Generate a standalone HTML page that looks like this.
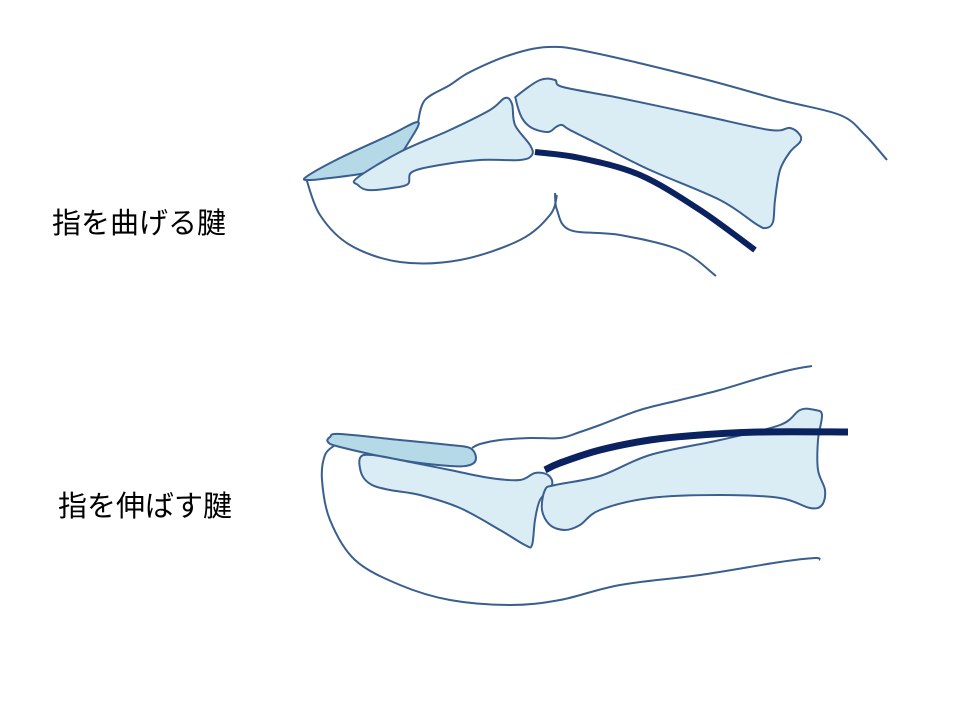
<!DOCTYPE html>
<html><head><meta charset="utf-8"><style>
html,body{margin:0;padding:0;background:#fff;width:960px;height:720px;overflow:hidden}
.t{position:absolute;font-family:"Liberation Sans","Noto Sans CJK JP",sans-serif;font-size:29px;color:#000;white-space:nowrap}
svg{position:absolute;left:0;top:0}
</style></head><body>
<div class="t" style="left:52px;top:200px">指を曲げる腱</div>
<div class="t" style="left:58px;top:483px">指を伸ばす腱</div>
<svg width="960" height="720" id="s"></svg>
<script>
var S="#3a5f8f";
var shapes=[
{p:[[306,178],[320,215],[350,245],[400,262],[460,260],[520,240],[550,215],[557,195]],f:"none",c:0},
{p:[[555,193],[557,210],[570,230],[620,235],[680,250],[716,276]],f:"none",c:0},
{p:[[418,122],[425,100],[450,85],[470,72],[510,55],[548,47],[590,52],[700,78],[780,100],[840,115],[865,135],[887,160]],f:"none",c:0},
{p:[[306,177],[340,158],[390,135],[418,122],[410,140],[395,160],[370,172],[330,178],[310,180]],f:"#b5d9e6",c:1},
{p:[[357,178],[400,152],[450,130],[490,110],[505,98],[512,104],[515,125],[530,145],[532,155],[520,160],[480,160],[440,165],[412,172],[408,184],[392,188],[368,190],[358,185]],f:"#daedf4",c:1},
{p:[[518,95],[540,80],[555,80],[563,87],[620,98],[700,115],[770,130],[790,128],[800,135],[800,142],[790,152],[780,170],[775,200],[773,222],[766,228],[756,224],[720,200],[650,170],[600,145],[570,130],[562,125],[556,127],[548,132],[532,128],[522,118],[516,100]],f:"#daedf4",c:1},
{p:[[535,152],[580,158],[640,175],[700,210],[755,250]],f:"none",c:0,w:6,s:"#0b2260"},
{p:[[472,448],[480,444],[500,440],[530,438],[560,438],[580,432],[600,425],[640,410],[680,400],[720,390],[760,378],[790,370],[812,366]],f:"none",c:0},
{p:[[335,445],[325,455],[322,480],[330,520],[355,560],[400,585],[450,600],[510,605],[560,600],[620,585],[700,575],[780,562],[815,558],[820,560]],f:"none",c:0},
{p:[[330,437],[340,434],[400,440],[450,445],[470,448],[476,458],[470,465],[450,466],[400,460],[340,447],[328,442]],f:"#b5d9e6",c:1},
{p:[[360,458],[372,455],[410,462],[450,470],[490,478],[520,480],[535,473],[548,475],[552,485],[540,500],[535,520],[532,545],[525,545],[500,530],[460,508],[420,495],[390,490],[372,485],[362,475]],f:"#daedf4",c:1},
{p:[[545,490],[555,485],[600,476],[650,455],[720,440],[780,425],[800,410],[815,410],[822,415],[818,440],[818,470],[825,490],[822,505],[810,508],[780,498],[720,495],[650,498],[600,510],[580,525],[565,530],[550,525],[542,510]],f:"#daedf4",c:1},
{p:[[545,470],[560,463],[600,450],[650,440],[700,435],[760,432],[848,432]],f:"none",c:0,w:7,s:"#0b2260"}
];
function cr(p,closed){
 var n=p.length,d="M"+p[0][0]+","+p[0][1];
 var g=function(i){if(closed)return p[(i+n)%n];return p[Math.max(0,Math.min(n-1,i))];};
 var m=closed?n:n-1;
 for(var i=0;i<m;i++){var p0=g(i-1),p1=g(i),p2=g(i+1),p3=g(i+2);
  d+=" C"+(p1[0]+(p2[0]-p0[0])/6)+","+(p1[1]+(p2[1]-p0[1])/6)+" "+(p2[0]-(p3[0]-p1[0])/6)+","+(p2[1]-(p3[1]-p1[1])/6)+" "+p2[0]+","+p2[1];}
 return d+(closed?"Z":"");
}
var h="";
shapes.forEach(function(o){h+='<path d="'+cr(o.p,o.c)+'" fill="'+o.f+'" stroke="'+(o.s||S)+'" stroke-width="'+(o.w||2)+'" stroke-linejoin="round"/>';});
document.getElementById("s").innerHTML=h;
</script>
</body></html>
